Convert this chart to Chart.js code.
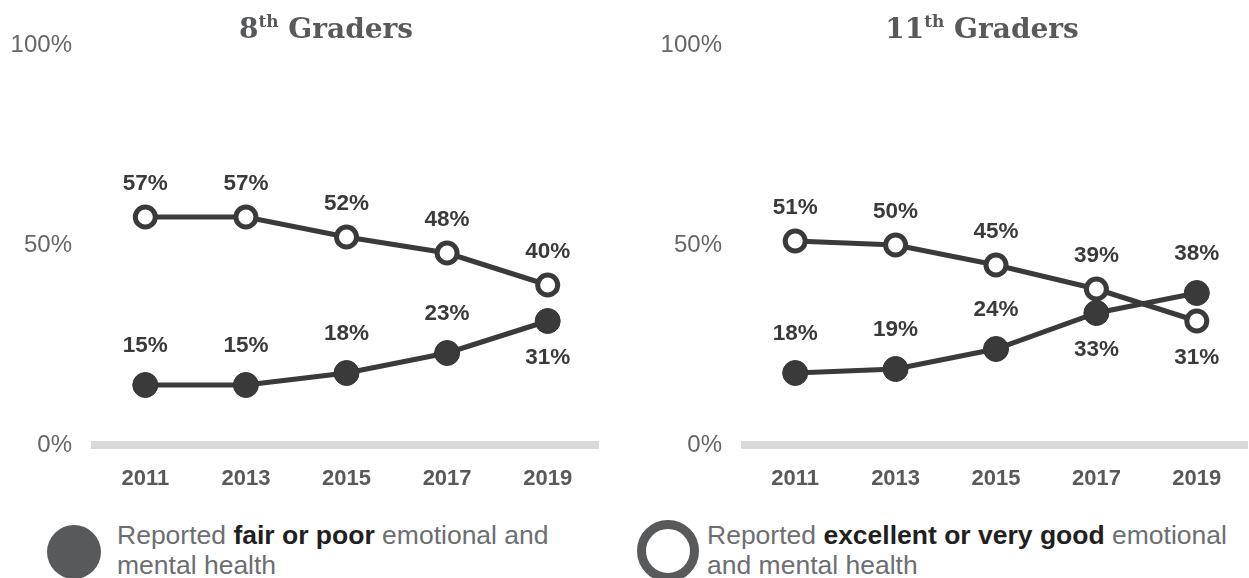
<!DOCTYPE html>
<html>
<head>
<meta charset="utf-8">
<script src="https://cdn.jsdelivr.net/npm/chart.js@4.4.1/dist/chart.umd.min.js"></script>
<style>
  html, body { margin: 0; padding: 0; background: #fff; }
  body { width: 1249px; height: 578px; position: relative; overflow: hidden; font-family: "Liberation Sans", Arial, sans-serif; }
  .panel { position: absolute; top: 0; height: 500px; }
  .title { position: absolute; top: 11px; font-family: "DejaVu Serif", serif; font-weight: bold; font-size: 28px; color: #58595b; white-space: nowrap; transform: translateX(-50%); }
  .title sup { font-size: 17px; vertical-align: 11px; }
  .legend { position: absolute; top: 520px; font-size: 26.5px; line-height: 30px; color: #6d6e71; }
  .legend b { color: #231f20; }
  .dot { position: absolute; border-radius: 50%; box-sizing: border-box; }
</style>
</head>
<body>

<div class="panel" style="left:0;width:620px"><canvas id="chart8"></canvas></div>
<div class="panel" style="left:650px;width:614px"><canvas id="chart11"></canvas></div>

<div class="title" style="left:326px">8<sup>th</sup> Graders</div>
<div class="title" style="left:982px">11<sup>th</sup> Graders</div>

<div class="dot" style="left:47px;top:525px;width:54px;height:54px;background:#58595b"></div>
<div class="legend" style="left:117px;width:460px">Reported <b>fair or poor</b> emotional and mental health</div>

<div class="dot" style="left:637px;top:520px;width:62px;height:62px;border:9px solid #58595b"></div>
<div class="legend" style="left:707px;width:536px">Reported <b>excellent or very good</b> emotional and mental health</div>

<script>
// Survey years
const years = ['2011', '2013', '2015', '2017', '2019'];

// 8th graders
const fairPoor8 = [15, 15, 18, 23, 31];
const excellent8 = [57, 57, 52, 48, 40];

// 11th graders
const fairPoor11 = [18, 19, 24, 33, 38];
const excellent11 = [51, 50, 45, 39, 31];

// y axis ticks
const yTicks = [0, 50, 100];

const ink = '#3a3a3a';

// Draw value labels above or below each point
const valueLabels = {
    id: 'valueLabels',
    afterDatasetsDraw(chart, args, opts) {
        const ctx = chart.ctx;
        ctx.save();
        ctx.font = 'bold 22.5px "Liberation Sans", Arial, sans-serif';
        ctx.fillStyle = ink;
        ctx.textAlign = 'center';
        ctx.textBaseline = 'middle';
        chart.data.datasets.forEach((ds, i) => {
            const meta = chart.getDatasetMeta(i);
            const where = opts.placement[i];
            meta.data.forEach((pt, j) => {
                const below = where[j] === 'below';
                const off = below ? 37 : (i === 0 ? 39 : 33);
                ctx.fillText(ds.data[j] + '%', pt.x, pt.y + (below ? off : -off));
            });
        });
        ctx.restore();
    }
};

function makeChart(id, fairPoor, excellent, placement, padRight) {
    const ctx = document.getElementById(id).getContext('2d');
    return new Chart(ctx, {
        type: 'line',
        data: {
            labels: years,
            datasets: [
                {
                    data: fairPoor,
                    borderColor: ink,
                    borderWidth: 5,
                    pointRadius: 12.5,
                    pointBackgroundColor: ink,
                    pointBorderColor: '#333',
                    pointBorderWidth: 1,
                    order: 2
                },
                {
                    data: excellent,
                    borderColor: ink,
                    borderWidth: 5,
                    pointRadius: 10,
                    pointBackgroundColor: '#fff',
                    pointBorderColor: ink,
                    pointBorderWidth: 5,
                    order: 1
                }
            ]
        },
        options: {
            responsive: true,
            maintainAspectRatio: false,
            animation: false,
            events: [],
            layout: { padding: { top: 45, right: padRight, bottom: 0, left: 0 } },
            plugins: {
                legend: { display: false },
                tooltip: { enabled: false },
                valueLabels: { placement: placement }
            },
            elements: { line: { tension: 0 }, point: { hoverRadius: 12 } },
            scales: {
                x: {
                    offset: true,
                    grid: { display: false, drawTicks: false },
                    border: { display: true, color: '#d9d9d9', width: 8 },
                    ticks: {
                        padding: 21,
                        color: '#58595b',
                        font: { family: '"Liberation Sans", Arial, sans-serif', size: 22, weight: 'bold' }
                    },
                    afterFit: s => { s.height = 55; }
                },
                y: {
                    min: 0,
                    max: 100,
                    afterBuildTicks: s => { s.ticks = yTicks.map(v => ({ value: v })); },
                    grid: { display: false, drawTicks: false },
                    border: { display: false },
                    ticks: {
                        padding: 23,
                        color: '#666',
                        font: { family: '"Liberation Sans", Arial, sans-serif', size: 24 },
                        callback: v => v + '%'
                    },
                    afterFit: s => { s.width = 95; }
                }
            }
        },
        plugins: [valueLabels]
    });
}

makeChart('chart8', fairPoor8, excellent8,
    [['above', 'above', 'above', 'above', 'below'], ['above', 'above', 'above', 'above', 'above']], 22);
makeChart('chart11', fairPoor11, excellent11,
    [['above', 'above', 'above', 'below', 'above'], ['above', 'above', 'above', 'above', 'below']], 2);
</script>
</body>
</html>
